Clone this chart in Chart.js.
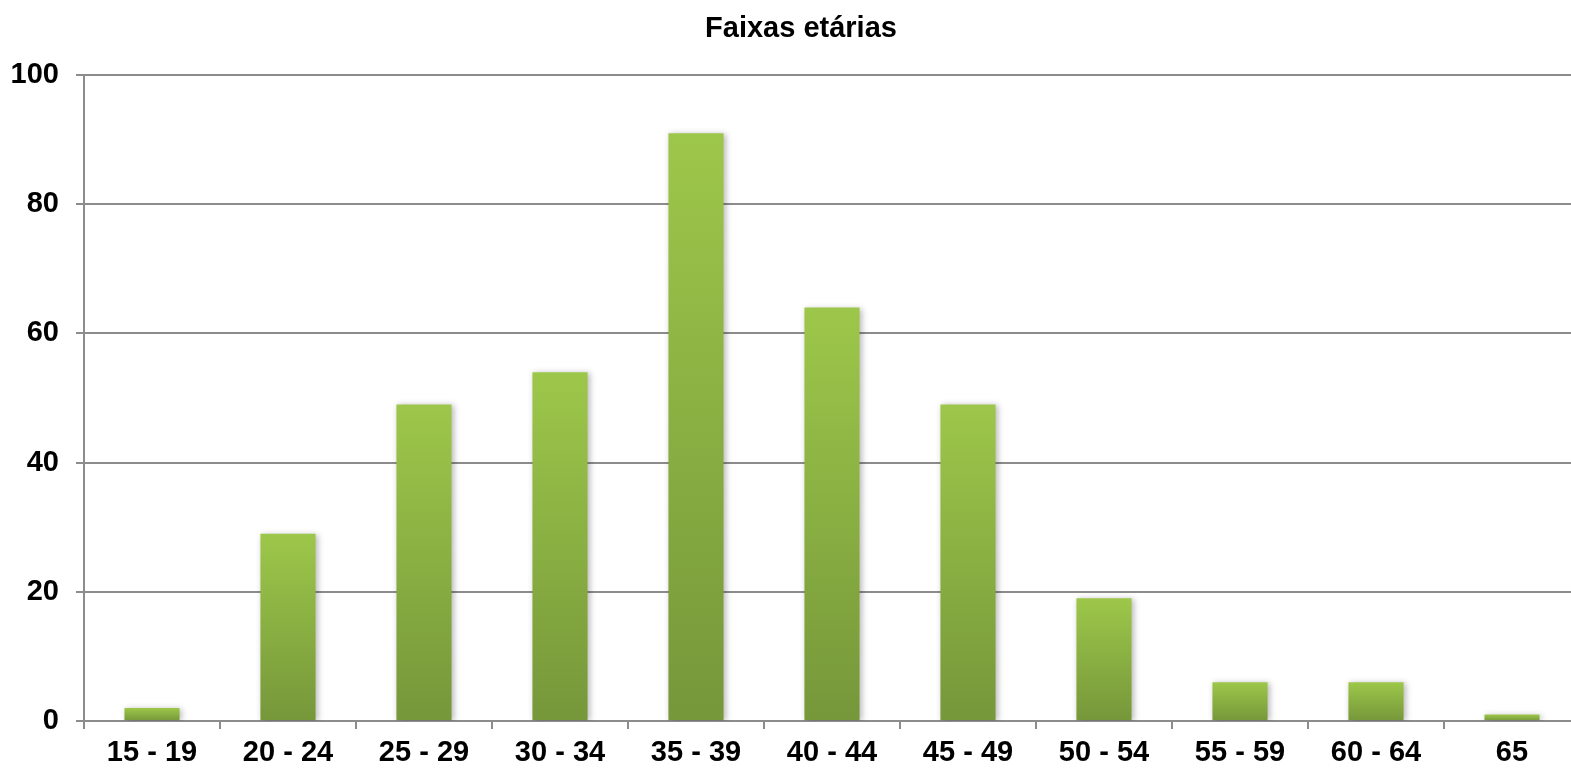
<!DOCTYPE html>
<html>
<head>
<meta charset="utf-8">
<script src="https://cdn.jsdelivr.net/npm/chart.js@4"></script>
<style>
  html, body { margin: 0; padding: 0; background: #fff; overflow: hidden; }
  #wrap { width: 1571px; height: 770px; overflow: hidden; }
</style>
</head>
<body>
<div id="wrap"><canvas id="chart" width="1600" height="770"></canvas></div>
<script>
const faixas = ["15 - 19", "20 - 24", "25 - 29", "30 - 34", "35 - 39", "40 - 44",
                "45 - 49", "50 - 54", "55 - 59", "60 - 64", "65"];
const quantidade = [2, 29, 49, 54, 91, 64, 49, 19, 6, 6, 1];
const yTicks = [0, 20, 40, 60, 80, 100];

const FONT = "'Liberation Sans', Arial, sans-serif";

// gradiente por barra: claro em cima, escuro em baixo
function barFill(c) {
  const chart = c.chart;
  if (c.type !== "data" || !chart.scales.y) return "#8bb043";
  const y = chart.scales.y;
  const top = y.getPixelForValue(c.raw);
  const bottom = y.getPixelForValue(0);
  if (!isFinite(top) || !isFinite(bottom) || top === bottom) return "#8bb043";
  const g = chart.ctx.createLinearGradient(0, top, 0, bottom);
  g.addColorStop(0, "#9dc74a");
  g.addColorStop(1, "#76973a");
  return g;
}

const barShadow = {
  id: "barShadow",
  beforeDatasetsDraw(chart) {
    const ctx = chart.ctx;
    ctx.save();
    ctx.shadowColor = "rgba(0,0,0,0.28)";
    ctx.shadowBlur = 6;
    ctx.shadowOffsetX = 2;
    ctx.shadowOffsetY = 1;
  },
  afterDatasetsDraw(chart) {
    chart.ctx.restore();
  }
};

// o eixo y fica estreito por causa do padding esquerdo (centrar o título);
// alarga a zona de recorte das etiquetas até à borda
const yLabelRoom = {
  id: "yLabelRoom",
  afterLayout(chart) {
    chart.scales.y.left = 0;
  }
};

new Chart(document.getElementById("chart"), {
  type: "bar",
  data: {
    labels: faixas,
    datasets: [{
      data: quantidade,
      backgroundColor: barFill,
      borderWidth: 0,
      barPercentage: 0.81,
      categoryPercentage: 0.5
    }]
  },
  options: {
    responsive: false,
    animation: false,
    layout: { padding: { left: 22, right: 20, top: 0, bottom: 0 } },
    plugins: {
      legend: { display: false },
      tooltip: { enabled: false },
      title: {
        display: true,
        text: "Faixas etárias",
        color: "#000",
        font: { family: FONT, size: 29, weight: "bold", lineHeight: 1.2 },
        padding: { top: 12, bottom: 28.2 }
      }
    },
    scales: {
      x: {
        offset: true,
        grid: {
          display: true,
          offset: true,
          drawOnChartArea: false,
          color: "#8c8c8c",
          lineWidth: 2,
          tickLength: 8
        },
        border: { display: true, color: "#8c8c8c", width: 2 },
        ticks: {
          color: "#000",
          font: { family: FONT, size: 29, weight: "bold" },
          padding: 7,
          maxRotation: 0,
          autoSkip: false
        },
        afterFit(scale) { scale.height = 49; }
      },
      y: {
        min: 0,
        max: 100,
        afterBuildTicks(scale) { scale.ticks = yTicks.map(v => ({ value: v })); },
        grid: { color: "#8c8c8c", lineWidth: 2, tickLength: 8 },
        border: { display: true, color: "#8c8c8c", width: 2 },
        ticks: {
          color: "#000",
          font: { family: FONT, size: 29, weight: "bold" },
          padding: 17
        },
        afterFit(scale) { scale.width = 62; }
      }
    }
  },
  plugins: [barShadow, yLabelRoom]
});
</script>
</body>
</html>
